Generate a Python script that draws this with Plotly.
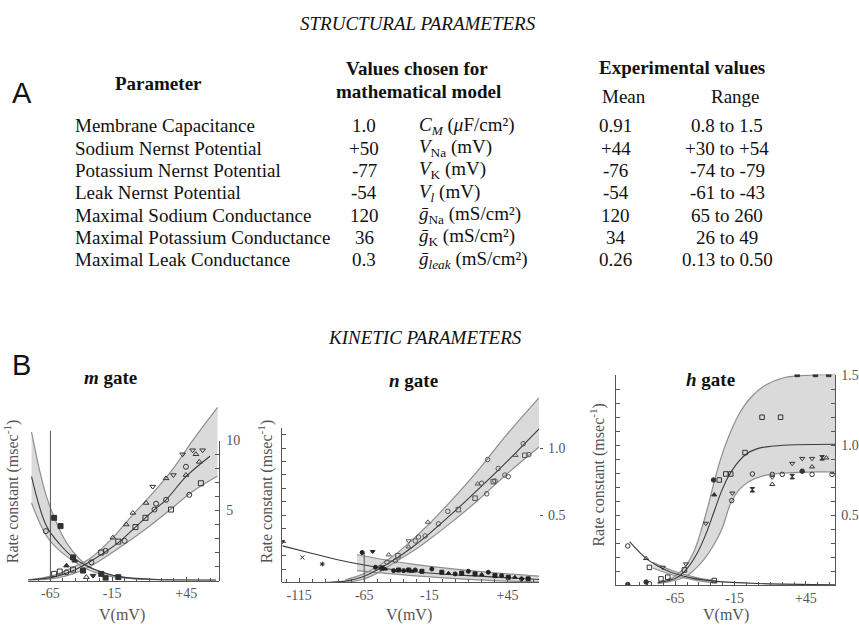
import plotly.graph_objects as go

W, H = 859, 625
SERIF = "Liberation Serif, Times New Roman, serif"
SANS = "Liberation Sans, Arial, sans-serif"
INK = "#111111"
AXIS = "#555555"

# ---------------- A: structural parameters ----------------
param_names = ["Membrane Capacitance", "Sodium Nernst Potential",
               "Potassium Nernst Potential", "Leak Nernst Potential",
               "Maximal Sodium Conductance", "Maximal Potassium Conductance",
               "Maximal Leak Conductance"]
model_values = ["1.0", "+50", "-77", "-54", "120", "36", "0.3"]
model_symbols = ["<i>C<sub>M</sub></i> (<i>μ</i>F/cm²)",
                 "<i>V</i><sub>Na</sub> (mV)",
                 "<i>V</i><sub>K</sub> (mV)",
                 "<i>V<sub>l</sub></i> (mV)",
                 "<i>ḡ</i><sub>Na</sub> (mS/cm²)",
                 "<i>ḡ</i><sub>K</sub> (mS/cm²)",
                 "<i>ḡ<sub>leak</sub></i> (mS/cm²)"]
exp_means = ["0.91", "+44", "-76", "-54", "120", "34", "0.26"]
exp_ranges = ["0.8 to 1.5", "+30 to +54", "-74 to -79", "-61 to -43",
              "65 to 260", "26 to 49", "0.13 to 0.50"]

# ---------------- B: kinetic parameters ----------------
# m gate, alpha_m (rising) band and fit
m_rise_mean_v = [-83, -62.8, -46.7, -31.8, -9.0, 3.9, 19.3, 28.7, 44.8, 64.2]
m_rise_mean_y = [0.04, 0.24, 0.70, 1.41, 2.78, 3.82, 5.07, 5.77, 7.42, 8.88]
m_rise_up_v = [-83, -62.8, -46.7, -31.8, -14.4, 1.8, 17.9, 34.0, 50.2, 70.4]
m_rise_up_y = [0.05, 0.35, 0.94, 1.65, 3.06, 4.71, 6.24, 7.94, 10.0, 12.37]
m_rise_lo_v = [-83, -62.8, -46.7, -31.8, -9.0, 12.5, 31.4, 50.2, 70.4]
m_rise_lo_y = [0.03, 0.14, 0.47, 1.06, 2.35, 3.70, 5.02, 6.36, 7.47]
# m gate, beta_m (falling) band and fit
m_fall_mean_v = [-80.3, -68.2, -57.4, -46.6, -35.9, -22.4, -9.0, 17.9, 69.1]
m_fall_mean_y = [7.42, 3.89, 2.59, 1.65, 1.06, 0.59, 0.28, 0.09, 0.02]
m_fall_up_v = [-80.3, -73.5, -68.2, -60.1, -52.0, -41.3, -30.5, -17.0, 4.5, 69.1]
m_fall_up_y = [10.6, 7.77, 6.01, 4.12, 2.71, 1.53, 0.82, 0.40, 0.12, 0.03]
m_fall_lo_v = [-80.3, -68.2, -57.4, -46.6, -35.9, -19.7, 4.5, 69.1]
m_fall_lo_y = [5.54, 3.18, 2.12, 1.41, 0.82, 0.35, 0.12, 0.02]
m_rest_v = -65
m_rest_top = 10.7
m_pts_v = [-62.0, -57.4, -52.0, -46.7, -31.8, -23.8, -20.3, -14.4, -10.0, -4.9,
           -3.6, 1.8, 3.9, 12.0, 12.5, 17.9, 19.3, 20.6, 28.7, 28.7,
           32.7, 34.6, 42.1, 44.8, 44.8, 47.5, 50.2, 52.9, 55.6, 58.3, 56.9,
           -62.0, -56.8, -46.7, -52.0, -38.6, -30.5, -23.8, -20.3, -45.3, -10.0,
           -68.7, -35.9]
m_pts_y = [0.47, 0.64, 0.59, 0.78, 1.30, 2.00, 2.12, 3.06, 2.78, 2.83,
           4.0, 4.83, 3.82, 4.48, 5.54, 6.71, 5.07, 5.49, 7.30, 5.77,
           5.07, 7.54, 9.02, 8.13, 7.54, 6.12, 9.31, 9.02, 8.48, 9.31, 6.95,
           4.48, 3.89, 1.65, 1.06, 0.71, 0.35, 0.47, 0.16, 1.41, 0.24,
           3.53, 0.24]
m_pts_sym = ["square-open", "square-open", "circle-open", "square-open", "circle-open",
             "square-open", "circle-open", "triangle-up-open", "square-open", "circle-open",
             "triangle-up-open", "triangle-up-open", "square-open", "square-open",
             "triangle-up-open", "triangle-down-open", "circle-open", "circle-open",
             "triangle-up-open", "circle-open", "square-open", "triangle-down-open",
             "triangle-down-open", "circle-open", "triangle-up-open", "circle-open",
             "triangle-down-open", "triangle-up-open", "triangle-up-open",
             "triangle-down-open", "square-open",
             "square", "square", "square", "triangle-up", "square", "triangle-down",
             "square", "square", "triangle-up", "square",
             "circle-open", "triangle-up-open"]

# n gate, alpha_n (rising)
n_rise_mean_v = [-97.3, -79.4, -66.6, -53.9, -41.1, -28.4, -15.6, 2.2, 17.5, 35.4, 53.2, 69.3]
n_rise_mean_y = [0.0, 0.01, 0.04, 0.10, 0.174, 0.26, 0.358, 0.51, 0.647, 0.811, 0.983, 1.142]
n_rise_up_v = [-79.4, -66.6, -53.9, -41.1, -28.4, -15.6, 2.2, 22.6, 43.0, 69.3]
n_rise_up_y = [0.02, 0.06, 0.125, 0.208, 0.314, 0.431, 0.613, 0.836, 1.083, 1.375]
n_rise_lo_v = [-79.4, -66.6, -53.9, -41.1, -28.4, -15.6, 2.2, 22.6, 43.0, 69.3]
n_rise_lo_y = [0.0, 0.022, 0.075, 0.154, 0.228, 0.316, 0.449, 0.613, 0.794, 1.007]
# n gate, beta_n (falling)
n_fall_mean_v = [-127.9, -104.9, -84.5, -69.2, -46.2, -15.6, 22.6, 69.3]
n_fall_mean_y = [0.272, 0.216, 0.167, 0.137, 0.100, 0.071, 0.047, 0.022]
n_fall_up_v = [-70.5, -28.4, 22.6, 69.3]
n_fall_up_y = [0.206, 0.137, 0.083, 0.047]
n_fall_lo_v = [-70.5, -28.4, 22.6, 69.3]
n_fall_lo_y = [0.088, 0.051, 0.020, 0.002]
n_rest_v = -65
n_rest_top = 0.22
n_open_v = [-46.2, -39.1, -41.1, -47.5, -52.6, -30.9, -30.9, -25.8, -23.3, -16.1,
            -18.2, -8.0, -0.8, 7.3, 20.1, 22.1, 25.2, 29.0, 29.8, 34.1,
            37.9, 45.6, 51.2, 57.1, 58.3, 61.4, 35.4, 43.0]
n_open_y = [0.206, 0.199, 0.162, 0.150, 0.108, 0.265, 0.309, 0.309, 0.338, 0.449,
            0.346, 0.436, 0.529, 0.542, 0.627, 0.733, 0.738, 0.659, 0.914, 0.750,
            0.848, 0.787, 0.946, 1.032, 0.946, 0.951, 0.755, 0.799]
n_open_sym = ["triangle-up-open", "square-open", "circle-open", "circle-open", "circle-open",
              "triangle-up-open", "triangle-down-open", "circle-open", "circle-open",
              "triangle-up-open", "circle-open", "circle-open", "circle-open",
              "square-open", "square-open", "triangle-up-open", "circle-open",
              "circle-open", "circle-open", "square-open", "circle-open", "circle-open",
              "triangle-up-open", "circle-open", "square-open", "circle-open",
              "circle-open", "circle-open"]
n_fill_v = [-66.6, -58.5, -56.4, -51.3, -48.8, -42.4, -38.6, -34.75, -30.9, -28.4,
            -25.8, -20.7, -13.1, -5.4, -0.3, 4.8, 9.9, 15.0, 20.1, 25.2,
            30.3, 35.4, 40.5, 45.6, 50.7, 55.8, 60.9, -127.8, -112.5, -97.2]
n_fill_y = [0.223, 0.230, 0.113, 0.108, 0.100, 0.088, 0.093, 0.088, 0.093, 0.083,
            0.093, 0.083, 0.100, 0.076, 0.069, 0.064, 0.069, 0.083, 0.064, 0.059,
            0.076, 0.051, 0.051, 0.039, 0.039, 0.027, 0.027, 0.304, 0.186, 0.137]
n_fill_sym = ["circle", "triangle-down"] + ["circle", "square", "triangle-up", "circle",
              "square"] * 5 + ["triangle-down", "x-thin-open", "asterisk-open"]

# h gate, beta_h (rising sigmoid)
h_rise_mean_v = [-79.6, -62.9, -54.5, -46.1, -39.2, -32.1, -26.6, -21.0, -14.0, -5.6, 4.2, 18.2, 37.7, 69.8]
h_rise_mean_y = [0.019, 0.059, 0.125, 0.235, 0.365, 0.530, 0.659, 0.765, 0.859, 0.935, 0.977, 0.996, 1.005, 1.008]
h_rise_up_v = [-79.6, -65.6, -55.9, -48.9, -43.3, -37.7, -32.1, -26.6, -19.6, -11.2, -1.4, 9.8, 26.5, 48.8, 69.8]
h_rise_up_y = [0.024, 0.064, 0.141, 0.247, 0.388, 0.553, 0.742, 0.906, 1.071, 1.224, 1.342, 1.424, 1.483, 1.502, 1.507]
h_rise_lo_v = [-79.6, -57.2, -48.9, -40.5, -32.1, -25.2, -18.2, -11.2, -2.8, 9.8, 26.5, 48.8, 69.8]
h_rise_lo_y = [0.012, 0.059, 0.111, 0.188, 0.294, 0.412, 0.589, 0.683, 0.742, 0.784, 0.803, 0.810, 0.810]
# h gate, alpha_h (falling)
h_fall_mean_v = [-103.3, -89.4, -79.6, -68.5, -51.7, -32.1, 4.2, 69.8]
h_fall_mean_y = [0.313, 0.193, 0.139, 0.094, 0.054, 0.031, 0.014, 0.005]
h_fall_up_v = [-83.8, -65.6, -46.1, -29.4]
h_fall_up_y = [0.165, 0.101, 0.054, 0.031]
h_fall_lo_v = [-83.8, -65.6, -46.1, -29.4]
h_fall_lo_y = [0.125, 0.071, 0.035, 0.019]
h_pts_v = [37.7, 53.0, 64.2, 8.1, 23.7, -6.2, -22.4, -18.2, -32.7, -27.9,
           -32.1, -39.2, -16.8, -17.4, 0.0, 0.0, 16.7, 16.7, 16.7, 25.1,
           33.5, 33.5, 41.9, 41.9, 50.2, 50.2, 50.2, 58.6, 62.2, 67.0,
           -55.9, -57.2, -104.8, -89.4, -86.6, -76.9, -71.2, -104.8, -89.4, -86.6,
           -75.4, -32.1]
h_pts_y = [1.507, 1.507, 1.507, 1.201, 1.201, 0.949, 0.796, 0.796, 0.753, 0.753,
           0.647, 0.443, 0.659, 0.606, 0.796, 0.683, 0.793, 0.774, 0.722, 0.793,
           0.871, 0.777, 0.906, 0.816, 0.906, 0.847, 0.793, 0.911, 0.911, 0.793,
           0.153, 0.111, 0.007, 0.024, 0.012, 0.047, 0.059, 0.282, 0.193, 0.129,
           0.129, 0.035]
h_pts_sym = ["square", "square", "square", "square-open", "square-open", "square-open",
             "square-open", "square-open", "circle", "square-open",
             "triangle-up", "triangle-down-open", "triangle-down-open", "circle-open",
             "circle-open", "hourglass", "circle-open", "triangle-down-open",
             "triangle-up-open", "circle-open", "triangle-down-open", "hourglass",
             "triangle-down-open", "circle", "triangle-down-open", "triangle-up-open",
             "circle-open", "hourglass", "triangle-up-open", "circle-open",
             "triangle-down-open", "square-open", "circle", "circle", "circle-open",
             "square-open", "square-open", "circle-open", "triangle-up-open",
             "square-open", "triangle-down-open", "square-open"]

m_xticks, m_xlabels = [-65, -15, 45], ["-65", "-15", "+45"]
n_xticks, n_xlabels = [-115, -65, -15, 45], ["-115", "-65", "-15", "+45"]
h_xticks, h_xlabels = [-65, -15, 45], ["-65", "-15", "+45"]
m_yticks = list(range(1, 11))
m_ylabels = ["5", "10"]
n_yticks = [0.5, 1.0]
h_ylabels = [0.5, 1.0, 1.5]


def fx(p):
    return p / W


def fy(p):
    return 1 - p / H


fig = go.Figure()

BAND_FILL = "#dadada"
BAND_EDGE = "#8e8e8e"
MEAN = "#3a3a3a"


def band(xa, ya, lo_v, lo_y, up_v, up_y):
    fig.add_trace(go.Scatter(x=lo_v, y=lo_y, xaxis=xa, yaxis=ya, mode="lines",
                             line=dict(width=0, shape="spline"), hoverinfo="skip"))
    fig.add_trace(go.Scatter(x=up_v, y=up_y, xaxis=xa, yaxis=ya, mode="lines",
                             fill="tonexty", fillcolor=BAND_FILL,
                             line=dict(width=0, shape="spline"), hoverinfo="skip"))


def curve(xa, ya, v, y, color, width):
    fig.add_trace(go.Scatter(x=v, y=y, xaxis=xa, yaxis=ya, mode="lines",
                             line=dict(color=color, width=width, shape="spline"),
                             hoverinfo="skip"))


def points(xa, ya, v, y, sym, color, size):
    fig.add_trace(go.Scatter(x=v, y=y, xaxis=xa, yaxis=ya, mode="markers",
                             marker=dict(symbol=sym, size=size, color=color,
                                         line=dict(width=1, color=color)),
                             hoverinfo="skip"))


# m gate
band("x", "y", m_fall_lo_v, m_fall_lo_y, m_fall_up_v, m_fall_up_y)
band("x", "y", m_rise_lo_v, m_rise_lo_y, m_rise_up_v, m_rise_up_y)
for v, y in [(m_fall_lo_v, m_fall_lo_y), (m_fall_up_v, m_fall_up_y),
             (m_rise_lo_v, m_rise_lo_y), (m_rise_up_v, m_rise_up_y)]:
    curve("x", "y", v, y, BAND_EDGE, 1.2)
curve("x", "y", m_fall_mean_v, m_fall_mean_y, MEAN, 1.1)
curve("x", "y", m_rise_mean_v, m_rise_mean_y, MEAN, 1.1)
fig.add_trace(go.Scatter(x=[m_rest_v, m_rest_v], y=[0, m_rest_top], xaxis="x", yaxis="y",
                         mode="lines", line=dict(color="#555555", width=1), hoverinfo="skip"))
points("x", "y", m_pts_v, m_pts_y, m_pts_sym, "#333333", 5)
fig.add_trace(go.Scatter(x=[None], y=[None], xaxis="x", yaxis="y4", hoverinfo="skip"))

# n gate
band("x2", "y2", n_fall_lo_v, n_fall_lo_y, n_fall_up_v, n_fall_up_y)
band("x2", "y2", n_rise_lo_v, n_rise_lo_y, n_rise_up_v, n_rise_up_y)
for v, y in [(n_fall_lo_v, n_fall_lo_y), (n_fall_up_v, n_fall_up_y),
             (n_rise_lo_v, n_rise_lo_y), (n_rise_up_v, n_rise_up_y)]:
    curve("x2", "y2", v, y, BAND_EDGE, 1.2)
curve("x2", "y2", n_fall_mean_v, n_fall_mean_y, MEAN, 1.1)
curve("x2", "y2", n_rise_mean_v, n_rise_mean_y, MEAN, 1.1)
fig.add_trace(go.Scatter(x=[n_rest_v, n_rest_v], y=[0, n_rest_top], xaxis="x2", yaxis="y2",
                         mode="lines", line=dict(color="#555555", width=1), hoverinfo="skip"))
points("x2", "y2", n_open_v, n_open_y, n_open_sym, "#555555", 4.5)
points("x2", "y2", n_fill_v, n_fill_y, n_fill_sym, "#222222", 4)
fig.add_trace(go.Scatter(x=[None], y=[None], xaxis="x2", yaxis="y5", hoverinfo="skip"))

# h gate
band("x3", "y3", h_fall_lo_v, h_fall_lo_y, h_fall_up_v, h_fall_up_y)
band("x3", "y3", h_rise_lo_v, h_rise_lo_y, h_rise_up_v, h_rise_up_y)
for v, y in [(h_fall_lo_v, h_fall_lo_y), (h_fall_up_v, h_fall_up_y),
             (h_rise_lo_v, h_rise_lo_y), (h_rise_up_v, h_rise_up_y)]:
    curve("x3", "y3", v, y, BAND_EDGE, 1.2)
curve("x3", "y3", h_fall_mean_v, h_fall_mean_y, MEAN, 1.1)
curve("x3", "y3", h_rise_mean_v, h_rise_mean_y, MEAN, 1.1)
points("x3", "y3", h_pts_v, h_pts_y, h_pts_sym, "#333333", 4.5)

tickfont = dict(family=SERIF, size=14, color=AXIS)


def xaxis(dom, rng, anchor, tv, tt):
    return dict(domain=[fx(dom[0]), fx(dom[1])], range=rng, anchor=anchor,
                showline=True, linecolor=AXIS, linewidth=1, ticks="inside",
                ticklen=4, tickcolor=AXIS, tickvals=tv, ticktext=tt,
                tickfont=tickfont, ticklabelstandoff=0, showgrid=False, zeroline=False,
                minor=dict(ticks="inside", ticklen=3, tickcolor=AXIS,
                           tickmode="linear", tick0=-65, dtick=10, showgrid=False))


layout = dict(
    width=W, height=H, margin=dict(l=0, r=0, t=0, b=0),
    paper_bgcolor="white", plot_bgcolor="rgba(0,0,0,0)", showlegend=False,
    xaxis=xaxis((28.3, 219.3), [-83.0, 71.2], "y", m_xticks, m_xlabels),
    xaxis2=xaxis((283.3, 541.0), [-127.9, 69.3], "y2", n_xticks, n_xlabels),
    xaxis3=xaxis((618.3, 838.3), [-114.6, 69.8], "y3", h_xticks, h_xlabels),
    yaxis=dict(domain=[fy(580), fy(400)], range=[0, 12.72], anchor="x", visible=False),
    yaxis4=dict(domain=[fy(580), fy(438.5)], range=[0, 10], anchor="x", side="right",
                showline=True, linecolor=AXIS, linewidth=1, ticks="inside", ticklen=4,
                tickcolor=AXIS, tickvals=m_yticks,
                ticktext=[str(t) if str(t) in m_ylabels else "" for t in m_yticks],
                tickfont=tickfont, ticklabelstandoff=4, showgrid=False, zeroline=False),
    yaxis2=dict(domain=[fy(582), fy(395)], range=[0, 1.375], anchor="x2", side="right",
                showline=False, ticks="outside", ticklen=3, tickcolor=AXIS,
                tickvals=n_yticks, ticktext=[f"{t:.1f}" for t in n_yticks],
                tickfont=tickfont, ticklabelstandoff=2, showgrid=False, zeroline=False),
    yaxis5=dict(domain=[fy(582), fy(425.6)], range=[0, 1.15], anchor="x2", side="left",
                showline=True, linecolor=AXIS, linewidth=1, ticks="inside", ticklen=4,
                tickcolor=AXIS, tickmode="linear", tick0=0, dtick=0.1,
                showticklabels=False, showgrid=False, zeroline=False),
    yaxis3=dict(domain=[fy(585), fy(371.7)], range=[0, 1.506], anchor="x3", side="right",
                showline=True, mirror="ticks", linecolor=AXIS, linewidth=1,
                ticks="inside", ticklen=4, tickcolor=AXIS,
                tickvals=[round(0.1 * k, 1) for k in range(1, 16)],
                ticktext=[f"{0.1 * k:.1f}" if round(0.1 * k, 1) in h_ylabels else ""
                          for k in range(1, 16)],
                tickfont=tickfont, ticklabelstandoff=2, showgrid=False, zeroline=False),
)

ann = []


def text(t, x, y, size=19, xanchor="center", color=INK, family=SERIF, angle=0):
    ann.append(dict(text=t, x=fx(x), y=fy(y), xref="paper", yref="paper",
                    xanchor=xanchor, yanchor="middle", showarrow=False,
                    textangle=angle, font=dict(family=family, size=size, color=color)))


text("<i>STRUCTURAL PARAMETERS</i>", 419.5, 17, size=19)
text("A", 21.7, 87, size=29, family=SANS)
text("<b>Parameter</b>", 158.8, 77)
text("<b>Values chosen for</b>", 418, 62)
text("<b>mathematical model</b>", 419.5, 85)
text("<b>Experimental values</b>", 684.8, 61)
text("Mean", 626, 91)
text("Range", 738, 91)
row_y = [120, 142.6, 165.2, 187.8, 210.4, 233, 255.6]
for i, yy in enumerate(row_y):
    text(param_names[i], 73.3, yy, xanchor="left")
    text(model_values[i], 365.5, yy)
    text(model_symbols[i], 418, yy, xanchor="left")
    text(exp_means[i], 618, yy)
    text(exp_ranges[i], 730, yy)

text("<i>KINETIC PARAMETERS</i>", 426, 334, size=19)
text("B", 21.7, 362, size=29, family=SANS)
text("<b><i>m</i> gate</b>", 110.8, 375)
text("<b><i>n</i> gate</b>", 414.7, 378)
text("<b><i>h</i> gate</b>", 712.5, 377)
ylab = "Rate constant (msec<sup>-1</sup>)"
text(ylab, 11.7, 490, size=16, color=AXIS, angle=-90)
text(ylab, 266.7, 490, size=16, color=AXIS, angle=-90)
text(ylab, 600, 473, size=16, color=AXIS, angle=-90)
text("V(mV)", 122.5, 615, size=16, color=AXIS)
text("V(mV)", 410.7, 615, size=16, color=AXIS)
text("V(mV)", 728.3, 615, size=16, color=AXIS)

layout["annotations"] = ann
fig.update_layout(**layout)
fig.write_html("out.html")
